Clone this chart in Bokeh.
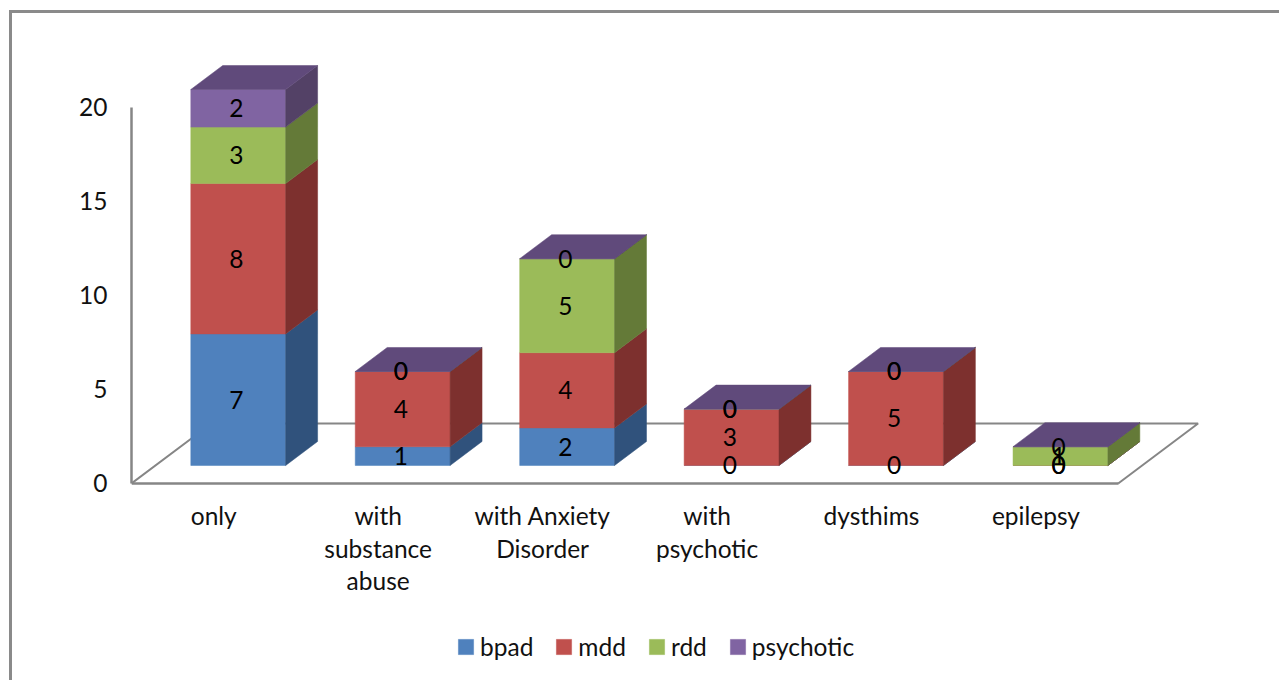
from bokeh.plotting import figure
from bokeh.models import FixedTicker, Legend, LegendItem
from bokeh.core.properties import value
from bokeh.embed import file_html
from bokeh.resources import INLINE

categories = ["only", "with\nsubstance\nabuse", "with Anxiety\nDisorder", "with\npsychotic", "dysthims", "epilepsy"]
bpad = [7, 1, 2, 0, 0, 0]
mdd = [8, 4, 4, 3, 5, 0]
rdd = [3, 0, 5, 0, 0, 1]
psychotic = [2, 0, 0, 0, 0, 0]
series_names = ["bpad", "mdd", "rdd", "psychotic"]
y_ticks = [0, 5, 10, 15, 20]

front_colors = ["#4F81BD", "#C0504D", "#9BBB59", "#8064A2"]
side_colors = ["#30527C", "#7D302E", "#647A38", "#534166"]
top_color = "#604A7B"
line_color = "#868686"
FONT = "Lato"
FS = "24.5px"

# Oblique projection, expressed in axis units
BAR_HALF = 0.2884
BAR_DX, BAR_DY = 0.149, 0.957     # bar base relative to the floor's front edge
DEPTH_DX, DEPTH_DY = 0.1943, 1.277  # bar depth
FLOOR_DX, FLOOR_DY = 0.486, 3.19  # floor depth
FLOOR_L, FLOOR_R = -0.5, 5.5
LABEL_DX = -0.011

p = figure(width=1267, height=667, x_range=(-0.5, 6.025), y_range=(-10.64, 22.5),
           output_backend="svg", toolbar_location=None,
           min_border_left=119, min_border_right=78, min_border_top=47, min_border_bottom=0)
p.styles = {"margin-left": "9px", "margin-top": "10px",
            "border-left": "3px solid #8A8A8A", "border-top": "3px solid #8A8A8A",
            "box-sizing": "content-box"}
p.grid.visible = False
p.outline_line_color = None
p.background_fill_color = "white"
p.border_fill_color = "white"

# axes
xa = p.xaxis[0]
xa.fixed_location = 0
xa.ticker = FixedTicker(ticks=list(range(len(categories))))
xa.major_label_overrides = {i: c for i, c in enumerate(categories)}
xa.bounds = (FLOOR_L, FLOOR_R)
xa.axis_line_color = line_color
xa.axis_line_width = 2.5
xa.major_tick_line_color = None
xa.minor_tick_line_color = None
xa.major_label_standoff = 12
xa.major_label_text_font = FONT
xa.major_label_text_font_size = FS
xa.major_label_text_color = "#111111"
xa.major_label_text_line_height = 1.118

ya = p.yaxis[0]
ya.ticker = FixedTicker(ticks=y_ticks)
ya.bounds = (0, 20)
ya.axis_line_color = line_color
ya.axis_line_width = 2.5
ya.major_tick_line_color = None
ya.minor_tick_line_color = None
ya.major_label_standoff = 18
ya.major_label_text_font = FONT
ya.major_label_text_font_size = FS
ya.major_label_text_color = "#111111"

# floor
p.line([FLOOR_L, FLOOR_L + FLOOR_DX, FLOOR_R + FLOOR_DX, FLOOR_R],
       [0, FLOOR_DY, FLOOR_DY, 0], line_color=line_color, line_width=2)

# stacked boxes
series = [bpad, mdd, rdd, psychotic]
items = []
lab_x, lab_y, lab_t = [], [], []
tops = []
for s, vals in enumerate(series):
    l, r, b, t = [], [], [], []
    sx, sy = [], []
    for i, v in enumerate(vals):
        base = sum(series[k][i] for k in range(s))
        cx = i + BAR_DX
        y0 = base + BAR_DY
        y1 = y0 + v
        l.append(cx - BAR_HALF); r.append(cx + BAR_HALF); b.append(y0); t.append(y1)
        xr = cx + BAR_HALF
        sx.append([xr, xr + DEPTH_DX, xr + DEPTH_DX, xr])
        sy.append([y0, y0 + DEPTH_DY, y1 + DEPTH_DY, y1])
        lab_x.append(cx + LABEL_DX); lab_y.append((y0 + y1) / 2); lab_t.append(str(v))
        if s == len(series) - 1:
            tops.append((cx, y1))
    q = p.quad(left=l, right=r, bottom=b, top=t, fill_color=front_colors[s],
               line_color=front_colors[s], line_width=0.5)
    p.patches(sx, sy, fill_color=side_colors[s], line_color=side_colors[s], line_width=0.5)
    items.append(LegendItem(label=series_names[s], renderers=[q]))

p.patches([[cx - BAR_HALF, cx - BAR_HALF + DEPTH_DX, cx + BAR_HALF + DEPTH_DX, cx + BAR_HALF] for cx, _ in tops],
          [[y, y + DEPTH_DY, y + DEPTH_DY, y] for _, y in tops],
          fill_color=top_color, line_color=top_color, line_width=0.5)

p.text(lab_x, lab_y, text=lab_t, text_align="center", text_baseline="middle",
       text_font=value(FONT), text_font_size=FS, text_color="#000000")

legend = Legend(items=items, orientation="horizontal", location=(325, 22),
                border_line_color=None, background_fill_alpha=0,
                glyph_width=19, glyph_height=19, label_standoff=5, spacing=21,
                margin=0, padding=0,
                label_text_font=FONT, label_text_font_size=FS, label_text_color="#111111")
p.add_layout(legend)

open("out.html", "w").write(file_html(p, INLINE))
